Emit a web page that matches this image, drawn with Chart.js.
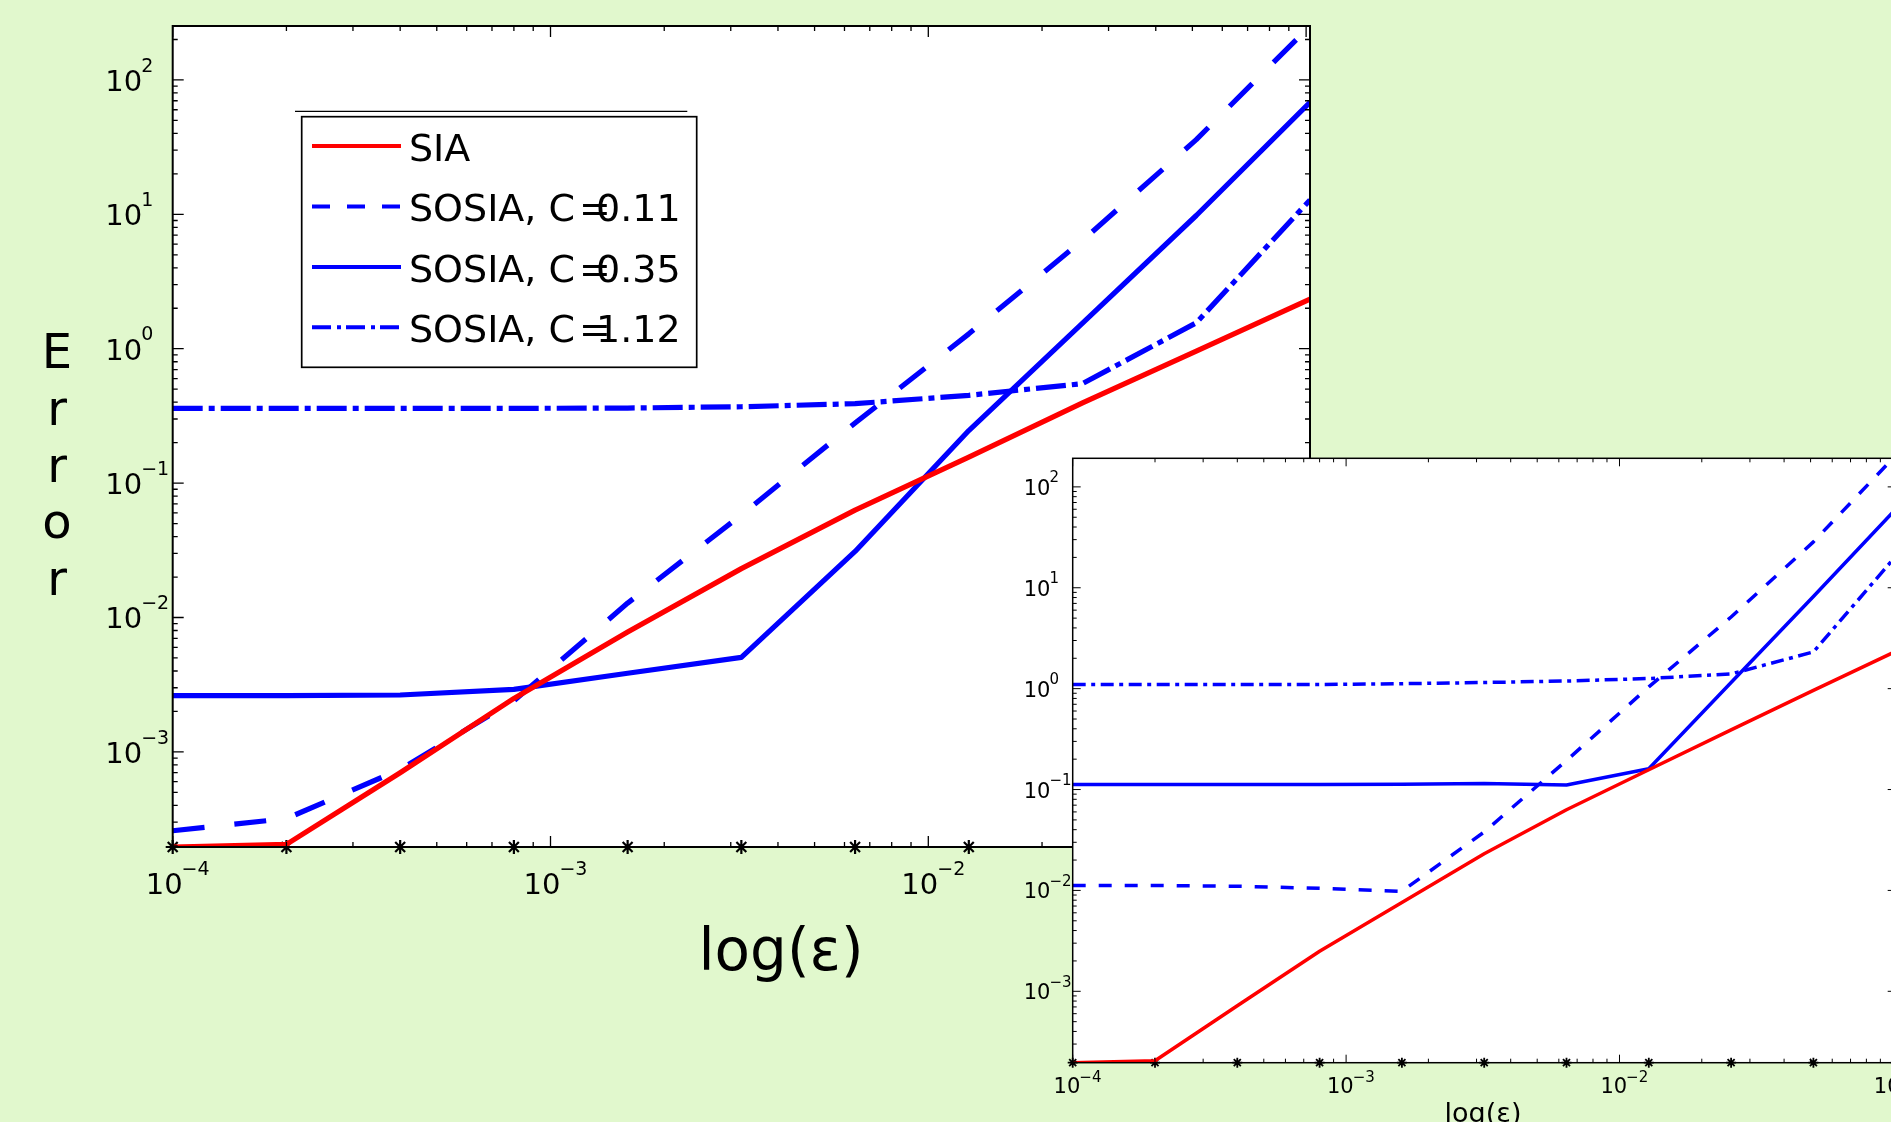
<!DOCTYPE html>
<html>
<head>
<meta charset="utf-8">
<script src="https://cdn.jsdelivr.net/npm/chart.js@4.4.1/dist/chart.umd.min.js"></script>
<style>
  html, body { margin: 0; padding: 0; }
  body { width: 1891px; height: 1122px; overflow: hidden; background: #e1f8cd; position: relative; }
  #main_chart { position: absolute; left: 0; top: 0; }
  #inset_chart { position: absolute; left: 1000px; top: 440px; }
</style>
</head>
<body>
<canvas id="main_chart" width="1891" height="1122"></canvas>
<canvas id="inset_chart" width="1000" height="682"></canvas>
<script>
const FONT = '"DejaVu Sans", "Liberation Sans", sans-serif';

// epsilon values (each run doubles eps)
const epsValues = [1e-4, 2e-4, 4e-4, 8e-4, 1.6e-3, 3.2e-3, 6.4e-3, 1.28e-2, 2.56e-2, 5.12e-2, 1.024e-1];

// big chart
const errSIA = [1.96e-4, 2.05e-4, 7.0e-4, 2.5e-3, 7.8e-3, 0.0231, 0.063, 0.156, 0.395, 0.96, 2.34];
const errSosia011 = [2.59e-4, 3.19e-4, 7.4e-4, 2.4e-3, 0.0128, 0.058, 0.28, 1.29, 6.4, 36, 252];
const errSosia035 = [2.62e-3, 2.62e-3, 2.65e-3, 2.92e-3, 3.85e-3, 5.05e-3, 0.031, 0.246, 1.55, 9.8, 68];
const errSosia112 = [0.36, 0.36, 0.36, 0.36, 0.362, 0.37, 0.39, 0.45, 0.55, 1.56, 12.8];

// small chart (no legend in it)
const insetSIA = [1.96e-4, 2.05e-4, 7.2e-4, 2.49e-3, 7.6e-3, 0.0231, 0.063, 0.157, 0.39, 0.96, 2.34];
const insetDashed = [0.0112, 0.0112, 0.0110, 0.0105, 0.0098, 0.038, 0.194, 1.04, 5.13, 28.5, 205];
const insetSolid = [0.112, 0.112, 0.112, 0.112, 0.113, 0.115, 0.111, 0.161, 1.15, 8.2, 60];
const insetDashDot = [1.10, 1.10, 1.10, 1.10, 1.12, 1.15, 1.19, 1.26, 1.40, 2.31, 20.5];

const seriesLabels = ['SIA', 'SOSIA, C=0.11', 'SOSIA, C=0.35', 'SOSIA, C=1.12'];
const xLimits = [1e-4, 0.1024];
const mainYLimits = [1.96e-4, 252];
const insetYLimits = [1.96e-4, 192];

function toPoints(ys) {
  return epsValues.map((x, i) => ({ x: x, y: ys[i] }));
}

function logTicks(min, max) {
  const out = [];
  for (let e = Math.floor(Math.log10(min)); e <= Math.ceil(Math.log10(max)); e++) {
    for (let m = 1; m <= 9; m++) {
      const v = m * Math.pow(10, e);
      if (v >= min * 0.9999 && v <= max * 1.0001) out.push({ v: v, major: m === 1, exp: e });
    }
  }
  return out;
}

function expText(e) {
  return e < 0 ? '\u2212' + (-e) : String(e);
}

// matplotlib look: white axes box, inward ticks on all sides, 10^n labels
const mplAxes = {
  id: 'mplAxes',
  beforeDraw(chart) {
    const a = chart.chartArea, ctx = chart.ctx;
    ctx.save();
    ctx.fillStyle = '#ffffff';
    ctx.fillRect(a.left, a.top, a.right - a.left, a.bottom - a.top);
    ctx.restore();
  },
  afterDatasetsDraw(chart, args, o) {
    const a = chart.chartArea, ctx = chart.ctx;
    const xs = chart.scales.x, ys = chart.scales.y;
    const xt = logTicks(xs.min, xs.max), yt = logTicks(ys.min, ys.max);
    ctx.save();
    ctx.strokeStyle = '#000';
    ctx.lineWidth = o.tickWidth;
    ctx.beginPath();
    xt.forEach(t => {
      const px = xs.getPixelForValue(t.v);
      const len = t.major ? o.majorLen : o.minorLen;
      ctx.moveTo(px, a.bottom); ctx.lineTo(px, a.bottom - len);
      ctx.moveTo(px, a.top); ctx.lineTo(px, a.top + len);
    });
    yt.forEach(t => {
      const py = ys.getPixelForValue(t.v);
      const len = t.major ? o.majorLen : o.minorLen;
      ctx.moveTo(a.left, py); ctx.lineTo(a.left + len, py);
      ctx.moveTo(a.right, py); ctx.lineTo(a.right - len, py);
    });
    ctx.stroke();
    ctx.lineWidth = o.frameWidth;
    ctx.strokeRect(a.left, a.top, a.right - a.left, a.bottom - a.top);

    const baseFont = o.labelSize + 'px ' + FONT;
    const expFont = o.expSize + 'px ' + FONT;
    ctx.fillStyle = '#000';
    ctx.textAlign = 'left';
    ctx.textBaseline = 'alphabetic';
    ctx.font = baseFont;
    const w10 = ctx.measureText('10').width;
    xt.filter(t => t.major).forEach(t => {
      const x0 = xs.getPixelForValue(t.v) + o.xLabelDx;
      ctx.font = baseFont;
      ctx.fillText('10', x0, a.bottom + o.xBaseDy);
      ctx.font = expFont;
      ctx.fillText(expText(t.exp), x0 + w10 - 1, a.bottom + o.xExpDy);
    });
    yt.filter(t => t.major).forEach(t => {
      const py = ys.getPixelForValue(t.v);
      ctx.font = baseFont;
      ctx.fillText('10', o.yLabelX, py + o.yBaseDy);
      ctx.font = expFont;
      ctx.fillText(expText(t.exp), o.yLabelX + w10 - 1, py + o.yExpDy);
    });
    ctx.restore();
  },
  afterDraw(chart, args, o) {
    const ctx = chart.ctx;
    ctx.save();
    ctx.fillStyle = '#000';
    ctx.textBaseline = 'alphabetic';
    ctx.textAlign = 'center';
    (o.titles || []).forEach(t => {
      ctx.font = t.size + 'px ' + FONT;
      ctx.fillText(t.text, t.x, t.y);
    });
    // stacked y title
    if (o.stacked) {
      const s = o.stacked;
      ctx.font = s.size + 'px ' + FONT;
      s.text.split('').forEach((ch, i) => ctx.fillText(ch, s.x, s.y + i * s.step));
    }
    ctx.restore();
  }
};

// legend box drawn inside the axes like the matplotlib one
const boxLegend = {
  id: 'boxLegend',
  afterDraw(chart, args, o) {
    if (!o.show) return;
    const ctx = chart.ctx;
    const b = o.box;
    ctx.save();
    ctx.fillStyle = '#fff';
    ctx.fillRect(b.left, b.top, b.right - b.left, b.bottom - b.top);
    ctx.strokeStyle = '#000';
    ctx.lineWidth = 1.7;
    ctx.strokeRect(b.left, b.top, b.right - b.left, b.bottom - b.top);
    ctx.lineWidth = 1.2;
    ctx.beginPath();
    ctx.moveTo(o.topLine.x1, o.topLine.y);
    ctx.lineTo(o.topLine.x2, o.topLine.y);
    ctx.stroke();

    ctx.font = o.fontSize + 'px ' + FONT;
    ctx.textAlign = 'left';
    ctx.textBaseline = 'alphabetic';
    const items = chart.data.datasets.filter(d => d.inLegend);
    items.forEach((d, i) => {
      const y = o.rowY + i * o.rowStep;
      ctx.strokeStyle = d.borderColor;
      ctx.lineWidth = o.lineWidth;
      ctx.setLineDash(d.legendDash || []);
      ctx.lineCap = 'butt';
      ctx.beginPath();
      ctx.moveTo(o.lineX1, y);
      ctx.lineTo(o.lineX2, y);
      ctx.stroke();
      ctx.setLineDash([]);
      ctx.fillStyle = '#000';
      const parts = d.label.split('=');
      const ty = y + o.textDy;
      ctx.fillText(parts[0], o.textX, ty);
      if (parts.length > 1) {
        const eqX = o.textX + ctx.measureText(parts[0]).width + 4;
        ctx.fillText('=', eqX, ty);
        ctx.fillText(parts[1], eqX + 17, ty);
      }
    });
    ctx.restore();
  }
};

function lineSet(label, ys, color, width, dash, legendDash) {
  return {
    label: label,
    data: toPoints(ys),
    borderColor: color,
    borderWidth: width,
    borderDash: dash,
    borderCapStyle: 'butt',
    borderJoinStyle: 'round',
    pointRadius: 0,
    tension: 0,
    fill: false,
    inLegend: true,
    legendDash: legendDash
  };
}

function starSet(yLevel, radius, width) {
  return {
    label: 'runs',
    data: epsValues.map(x => ({ x: x, y: yLevel })),
    showLine: false,
    pointStyle: 'star',
    pointRadius: radius,
    pointBorderWidth: width,
    pointBorderColor: '#000',
    pointBackgroundColor: '#000',
    borderColor: '#000',
    clip: false,
    inLegend: false
  };
}

function makeScales(yLim, yWidth, xHeight) {
  return {
    x: {
      type: 'logarithmic', position: 'bottom',
      min: xLimits[0], max: xLimits[1], bounds: 'data',
      grid: { display: false }, border: { display: false },
      ticks: { display: false },
      afterFit: s => { s.height = xHeight; }
    },
    y: {
      type: 'logarithmic', position: 'left',
      min: yLim[0], max: yLim[1], bounds: 'data',
      grid: { display: false }, border: { display: false },
      ticks: { display: false },
      afterFit: s => { s.width = yWidth; }
    }
  };
}

new Chart(document.getElementById('main_chart'), {
  type: 'line',
  data: {
    datasets: [
      lineSet(seriesLabels[0], errSIA, '#ff0000', 5.2, [], []),
      lineSet(seriesLabels[1], errSosia011, '#0000ff', 5.2, [32, 30], [18, 17]),
      lineSet(seriesLabels[2], errSosia035, '#0000ff', 5.2, [], []),
      lineSet(seriesLabels[3], errSosia112, '#0000ff', 5.2, [30, 6, 6, 6], [19, 6, 4, 5]),
      starSet(mainYLimits[0], 7, 2.2)
    ]
  },
  options: {
    responsive: false,
    animation: false,
    events: [],
    layout: { padding: { left: 0, top: 26, right: 581, bottom: 0 } },
    scales: makeScales(mainYLimits, 172.7, 275),
    plugins: {
      legend: { display: false },
      tooltip: { enabled: false },
      mplAxes: {
        tickWidth: 1.3, frameWidth: 2, majorLen: 11, minorLen: 5,
        labelSize: 29, expSize: 19,
        xLabelDx: -27, xBaseDy: 46.7, xExpDy: 28,
        yLabelX: 105.3, yBaseDy: 11, yExpDy: -8.3,
        titles: [{ text: 'log(\u03b5)', x: 781, y: 970, size: 58 }],
        stacked: { text: 'Error', x: 57, y: 368, step: 56.8, size: 48 }
      },
      boxLegend: {
        show: true,
        box: { left: 301.7, top: 116.7, right: 696.7, bottom: 367.3 },
        topLine: { x1: 295, x2: 687.3, y: 111.3 },
        fontSize: 38, lineWidth: 4,
        rowY: 146, rowStep: 60.45, textDy: 15,
        lineX1: 312, lineX2: 401, textX: 409
      }
    }
  },
  plugins: [mplAxes, boxLegend]
});

new Chart(document.getElementById('inset_chart'), {
  type: 'line',
  data: {
    datasets: [
      lineSet(seriesLabels[0], insetSIA, '#ff0000', 3.5, [], []),
      lineSet(seriesLabels[1], insetDashed, '#0000ff', 3.5, [13, 13], []),
      lineSet(seriesLabels[2], insetSolid, '#0000ff', 3.5, [], []),
      lineSet(seriesLabels[3], insetDashDot, '#0000ff', 3.5, [13, 5.5, 4, 5.5], []),
      starSet(insetYLimits[0], 5, 1.8)
    ]
  },
  options: {
    responsive: false,
    animation: false,
    events: [],
    layout: { padding: { left: 0, top: 18.3, right: 104.3, bottom: 0 } },
    scales: makeScales(insetYLimits, 72.7, 59.3),
    plugins: {
      legend: { display: false },
      tooltip: { enabled: false },
      mplAxes: {
        tickWidth: 1, frameWidth: 1.5, majorLen: 8, minorLen: 4,
        labelSize: 21, expSize: 15,
        xLabelDx: -19.1, xBaseDy: 30.6, xExpDy: 19,
        yLabelX: 23.7, yBaseDy: 8, yExpDy: -4.4,
        titles: [{ text: 'log(\u03b5)', x: 483, y: 681.5, size: 27 }]
      },
      boxLegend: { show: false }
    }
  },
  plugins: [mplAxes, boxLegend]
});
</script>
</body>
</html>
